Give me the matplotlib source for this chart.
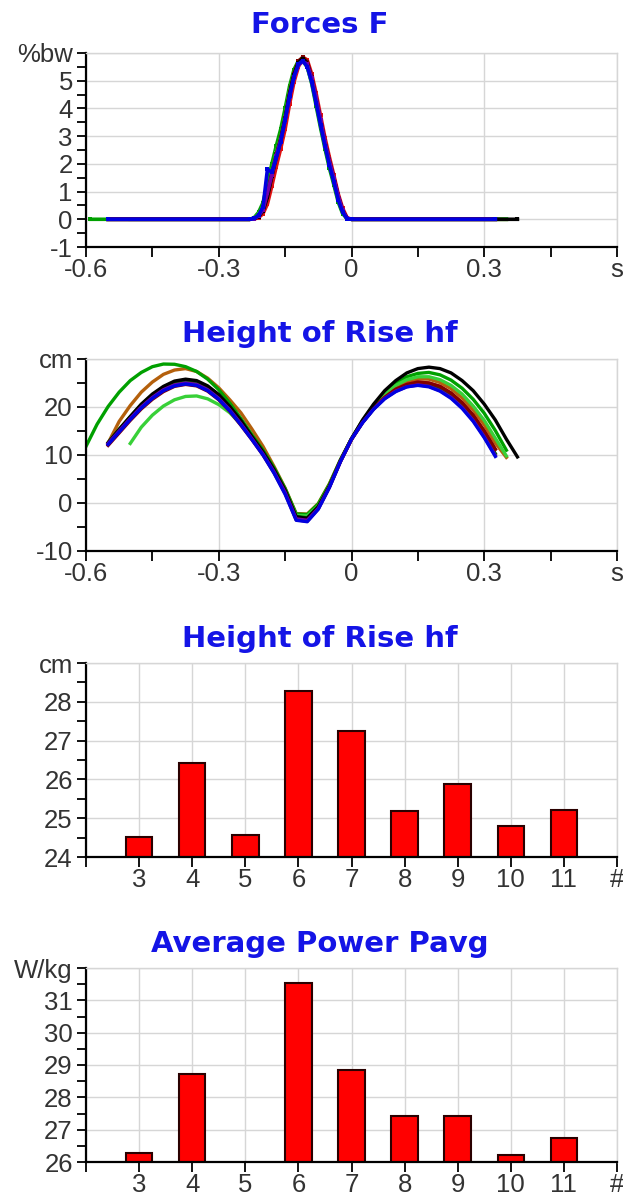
import numpy as np
import matplotlib.pyplot as plt
from matplotlib.ticker import FixedLocator

plt.rcParams["font.family"] = ["Liberation Sans", "DejaVu Sans"]

# trials and the colour used for each trace
trials = [3, 4, 5, 6, 7, 8, 9, 10, 11]
trial_colors = ["#0000e0", "#38d038", "#7400a8", "#000000", "#00a000",
                "#e01010", "#b4600c", "#006400", "#800000"]
# drawing order of the traces (last one on top)
draw_order = [6, 4, 1, 5, 7, 8, 3, 2, 0]

# start / end of each recording (s)
rec_start = [-0.55, -0.50, -0.55, -0.55, -0.59, -0.55, -0.55, -0.55, -0.55]
rec_end = [0.325, 0.35, 0.325, 0.375, 0.35, 0.325, 0.35, 0.325, 0.325]

# ground reaction force during contact (%bw)
t_contact = [-0.23, -0.22, -0.21, -0.20, -0.19, -0.18, -0.17, -0.16, -0.15, -0.14,
             -0.13, -0.12, -0.11, -0.10, -0.09, -0.08, -0.07, -0.06, -0.05, -0.04,
             -0.03, -0.02, -0.01, 0.00]
f3 = [0, 0.03, 0.15, 0.45, 1.8, 1.7, 2.2, 2.8, 3.6, 4.45, 5.15, 5.6, 5.72, 5.5, 4.95, 4.2, 3.4, 2.65, 1.95, 1.35, 0.7, 0.25, 0.02, 0]
f4 = [0, 0.04, 0.18, 0.45, 1.05, 1.75, 2.4, 2.95, 3.7, 4.6, 5.25, 5.62, 5.7, 5.5, 4.95, 4.25, 3.45, 2.7, 2.0, 1.4, 0.75, 0.27, 0.02, 0]
f5 = [0, 0.02, 0.12, 0.35, 0.95, 1.6, 2.3, 2.85, 3.55, 4.4, 5.1, 5.55, 5.7, 5.6, 5.1, 4.4, 3.6, 2.8, 2.1, 1.5, 0.85, 0.32, 0.03, 0]
f6 = [0, 0.02, 0.1, 0.3, 0.8, 1.55, 2.25, 2.85, 3.6, 4.5, 5.2, 5.65, 5.8, 5.62, 5.08, 4.35, 3.55, 2.78, 2.08, 1.48, 0.82, 0.3, 0.03, 0]
f7 = [0, 0.06, 0.25, 0.6, 1.3, 2.0, 2.65, 3.25, 4.0, 4.8, 5.4, 5.72, 5.75, 5.5, 4.9, 4.1, 3.3, 2.55, 1.85, 1.25, 0.62, 0.2, 0.02, 0]
f8 = [0, 0.01, 0.06, 0.2, 0.55, 1.2, 1.9, 2.55, 3.25, 4.15, 4.95, 5.5, 5.85, 5.75, 5.25, 4.55, 3.75, 2.95, 2.25, 1.6, 0.92, 0.4, 0.06, 0]
f9 = [0, 0.02, 0.1, 0.3, 0.85, 1.6, 2.3, 2.9, 3.65, 4.55, 5.25, 5.7, 5.82, 5.65, 5.1, 4.4, 3.6, 2.8, 2.1, 1.48, 0.82, 0.3, 0.03, 0]
f10 = [0, 0.03, 0.15, 0.4, 1.0, 1.7, 2.35, 2.9, 3.65, 4.5, 5.2, 5.6, 5.75, 5.6, 5.05, 4.3, 3.5, 2.75, 2.05, 1.45, 0.8, 0.3, 0.02, 0]
f11 = [0, 0.02, 0.1, 0.35, 0.9, 1.6, 2.3, 2.9, 3.65, 4.55, 5.25, 5.7, 5.85, 5.68, 5.12, 4.38, 3.58, 2.8, 2.1, 1.5, 0.84, 0.32, 0.03, 0]

# height of the centre of mass (cm), sampled every 25 ms
t_height = [-0.600, -0.575, -0.550, -0.525, -0.500, -0.475, -0.450, -0.425, -0.400, -0.375,
            -0.350, -0.325, -0.300, -0.275, -0.250, -0.225, -0.200, -0.175, -0.150, -0.125,
            -0.100, -0.075, -0.050, -0.025, 0.000, 0.025, 0.050, 0.075, 0.100, 0.125,
            0.150, 0.175, 0.200, 0.225, 0.250, 0.275, 0.300, 0.325, 0.350, 0.375]
h3 = [None, None, 12.2, 14.8, 17.4, 19.8, 21.8, 23.4, 24.4, 24.8, 24.5, 23.4, 21.6, 19.2, 16.3, 13.2, 10.0, 6.2, 1.8, -3.6,
      -3.9, -1.3, 3.2, 8.6, 13.3, 16.7, 19.5, 21.7, 23.2, 24.2, 24.5, 24.2, 23.3, 21.8, 19.7, 17.0, 13.6, 9.7, None, None]
h4 = [None, None, None, None, 12.4, 15.8, 18.3, 20.2, 21.5, 22.2, 22.3, 21.7, 20.5, 18.8, 16.4, 13.5, 10.4, 6.8, 2.6, -2.6,
      -2.7, -0.6, 3.6, 8.8, 13.4, 17.1, 20.1, 22.6, 24.5, 25.7, 26.3, 26.3, 25.7, 24.5, 22.7, 20.2, 17.2, 13.5, 9.8, None]
h5 = [None, None, 12.4, 15.0, 17.6, 20.0, 22.0, 23.6, 24.6, 25.0, 24.7, 23.6, 21.8, 19.4, 16.5, 13.4, 10.2, 6.5, 2.2, -3.3,
      -3.6, -1.1, 3.3, 8.7, 13.3, 16.8, 19.6, 21.8, 23.3, 24.2, 24.6, 24.3, 23.4, 22.0, 19.9, 17.2, 13.8, 9.9, None, None]
h6 = [None, None, 12.5, 15.3, 18.0, 20.6, 22.7, 24.3, 25.4, 25.8, 25.5, 24.4, 22.6, 20.1, 17.2, 13.8, 10.6, 6.9, 2.6, -2.9,
      -3.2, -0.8, 3.5, 8.8, 13.4, 17.3, 20.6, 23.4, 25.5, 27.1, 28.0, 28.3, 28.0, 27.1, 25.5, 23.4, 20.6, 17.3, 13.3, 9.6]
h7 = [11.8, 16.4, 20.1, 23.1, 25.5, 27.2, 28.4, 28.95, 28.9, 28.4, 27.4, 25.8, 23.6, 20.8, 17.6, 14.2, 11.0, 7.3, 3.0, -2.3,
      -2.4, -0.2, 3.9, 9.0, 13.4, 17.2, 20.4, 23.0, 24.9, 26.3, 27.0, 27.2, 26.7, 25.6, 23.9, 21.6, 18.7, 15.1, 11.0, None]
h8 = [None, None, 12.3, 15.1, 17.8, 20.2, 22.2, 23.8, 24.8, 25.2, 24.9, 23.8, 22.0, 19.6, 16.6, 13.5, 10.3, 6.6, 2.3, -3.2,
      -3.5, -0.9, 3.4, 8.7, 13.3, 16.8, 19.7, 22.0, 23.7, 24.7, 25.2, 25.0, 24.3, 22.9, 20.9, 18.3, 15.0, 11.2, None, None]
h9 = [None, None, 12.5, 17.0, 20.3, 23.1, 25.2, 26.8, 27.7, 28.0, 27.4, 26.0, 24.0, 21.5, 18.8, 15.4, 11.8, 7.6, 3.1, -2.2,
      -2.3, -0.1, 4.0, 9.0, 13.4, 17.0, 20.0, 22.4, 24.1, 25.3, 25.85, 25.8, 25.1, 23.8, 21.9, 19.4, 16.3, 12.5, 9.5, None]
h10 = [None, None, 12.6, 15.4, 18.0, 20.5, 22.5, 24.1, 25.2, 25.6, 25.3, 24.2, 22.4, 20.0, 17.0, 13.9, 10.7, 7.0, 2.7, -2.8,
       -3.1, -0.7, 3.5, 8.8, 13.3, 16.8, 19.6, 21.8, 23.4, 24.4, 24.8, 24.6, 23.7, 22.3, 20.2, 17.5, 14.2, 10.3, None, None]
h11 = [None, None, 12.0, 14.6, 17.2, 19.6, 21.6, 23.2, 24.3, 24.7, 24.4, 23.3, 21.5, 19.1, 16.2, 13.2, 10.0, 6.3, 2.0, -3.5,
       -3.8, -1.2, 3.3, 8.6, 13.2, 16.8, 19.7, 22.0, 23.7, 24.7, 25.2, 25.0, 24.3, 22.9, 20.9, 18.3, 15.0, 11.2, None, None]

# per-trial results
hf_cm = [24.52, 26.42, 24.56, 28.28, 27.24, 25.18, 25.88, 24.79, 25.22]
pavg_wkg = [26.28, 28.72, 25.80, 31.55, 28.84, 27.42, 27.42, 26.23, 26.75]

forces = [f3, f4, f5, f6, f7, f8, f9, f10, f11]
heights = [h3, h4, h5, h6, h7, h8, h9, h10, h11]

TITLE_BLUE = "#1414e6"
GRID = "#d6d6d6"
LABEL = "#333333"


def style(ax, xlim, ylim, xmajor, xlabels, ymajor, ylabels, xminor=None, yminor=None):
    ax.set_xlim(*xlim)
    ax.set_ylim(*ylim)
    ax.xaxis.set_major_locator(FixedLocator(xmajor))
    ax.yaxis.set_major_locator(FixedLocator(ymajor))
    ax.set_xticklabels(xlabels)
    ax.set_yticklabels(ylabels)
    if xminor is not None:
        ax.xaxis.set_minor_locator(FixedLocator(xminor))
    if yminor is not None:
        ax.yaxis.set_minor_locator(FixedLocator(yminor))
    ax.set_axisbelow(True)
    ax.grid(True, which="major", color=GRID, lw=1.0)
    for side in ("top", "right"):
        ax.spines[side].set_color(GRID)
        ax.spines[side].set_linewidth(1.0)
    for side in ("left", "bottom"):
        ax.spines[side].set_color("black")
        ax.spines[side].set_linewidth(1.6)
    ax.tick_params(which="both", direction="out", color="black", width=1.3,
                   labelsize=18.5, labelcolor=LABEL)
    ax.tick_params(axis="y", which="both", length=6.5, pad=3)
    ax.tick_params(axis="x", which="both", length=7, pad=1)
    ax.tick_params(top=False, right=False)


fig = plt.figure(figsize=(6.23, 11.98), dpi=100)
W, H = 623, 1198
left, width = 86 / W, 531 / W

# Forces F
ax1 = fig.add_axes([left, 1 - 247 / H, width, 194 / H])
for i in draw_order:
    ax1.plot([rec_start[i]] + t_contact + [rec_end[i]], [0] + forces[i] + [0],
             color=trial_colors[i], lw=2.6, marker="s", ms=3.4, mew=0)
style(ax1, (-0.6, 0.6), (-1, 6),
      [-0.6, -0.3, 0, 0.3, 0.6], ["-0.6", "-0.3", "0", "0.3", "s"],
      [-1, 0, 1, 2, 3, 4, 5, 6], ["-1", "0", "1", "2", "3", "4", "5", "%bw"],
      xminor=[-0.45, -0.15, 0.15, 0.45],
      yminor=[-0.5, 0.5, 1.5, 2.5, 3.5, 4.5, 5.5])

# Height of Rise hf, time course
ax2 = fig.add_axes([left, 1 - 551 / H, width, 192 / H])
for i in draw_order:
    ax2.plot(t_height, np.array(heights[i], dtype=float), color=trial_colors[i], lw=2.4)
style(ax2, (-0.6, 0.6), (-10, 30),
      [-0.6, -0.3, 0, 0.3, 0.6], ["-0.6", "-0.3", "0", "0.3", "s"],
      [-10, 0, 10, 20, 30], ["-10", "0", "10", "20", "cm"],
      xminor=[-0.45, -0.15, 0.15, 0.45], yminor=[-5, 5, 15, 25])

# Height of Rise hf per trial
ax3 = fig.add_axes([left, 1 - 857 / H, width, 194 / H])
ax3.bar(trials, hf_cm, width=0.5, color="#ff0000", edgecolor="#2a0000", lw=1.5)
style(ax3, (2, 12), (24, 29),
      list(range(2, 13)), [""] + [str(t) for t in trials] + ["#"],
      [24, 25, 26, 27, 28, 29], ["24", "25", "26", "27", "28", "cm"],
      yminor=[24.5, 25.5, 26.5, 27.5, 28.5])

# Average Power Pavg per trial
ax4 = fig.add_axes([left, 1 - 1162 / H, width, 194 / H])
ax4.bar(trials, pavg_wkg, width=0.5, color="#ff0000", edgecolor="#2a0000", lw=1.5)
style(ax4, (2, 12), (26, 32),
      list(range(2, 13)), [""] + [str(t) for t in trials] + ["#"],
      [26, 27, 28, 29, 30, 31, 32], ["26", "27", "28", "29", "30", "31", "W/kg"],
      yminor=[26.5, 27.5, 28.5, 29.5, 30.5, 31.5])

titles = [("Forces F", 33), ("Height of Rise hf", 342),
          ("Height of Rise hf", 647), ("Average Power Pavg", 952)]
for text, base in titles:
    fig.text(320 / W, 1 - base / H, text, ha="center", va="baseline",
             color=TITLE_BLUE, fontsize=21, fontweight="bold", family="DejaVu Sans")

fig.savefig("out.png", dpi=100)
